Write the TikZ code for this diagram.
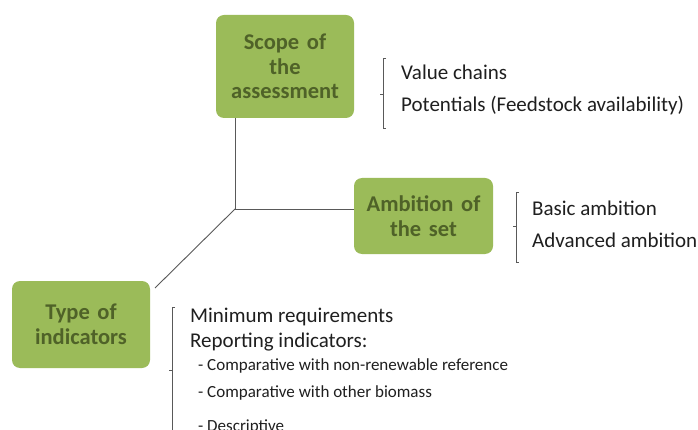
\documentclass[tikz,border=0pt]{standalone}
\usepackage{fontspec}
\setmainfont{Carlito}
\definecolor{boxfill}{HTML}{9BBB59}
\definecolor{boxtext}{HTML}{4F6228}
\definecolor{linegray}{HTML}{595959}
\newcommand{\myboxfont}{\fontsize{22.5}{24.5}\selectfont\bfseries\spaceskip=0.34em plus 0.1em\relax}
\begin{document}
\begin{tikzpicture}[x=1pt,y=-1pt,
  box/.style={draw=none,fill=boxfill,rounded corners=8pt,text=boxtext,
    font=\myboxfont,align=center,inner sep=0pt},
  conn/.style={draw=linegray,line width=0.9pt},
  brk/.style={draw=linegray,line width=0.9pt},
  item/.style={anchor=west,inner sep=0pt,font=\fontsize{21}{24}\selectfont,text=black!88},
  sitem/.style={anchor=west,inner sep=0pt,font=\fontsize{17}{20}\selectfont,text=black!88}]
\useasboundingbox (0,0) rectangle (698,430);
\fill[white] (0,0) rectangle (698,430);
% boxes
\node[box,minimum width=138pt,minimum height=103pt] (scope) at (285,66.5) {Scope of\\the\\assessment};
\node[box,minimum width=139pt,minimum height=76pt] (amb) at (423.5,216) {Ambition of\\the set};
\node[box,minimum width=138pt,minimum height=87pt] (type) at (81,324.5) {Type of\\indicators};
% connectors
\coordinate (hub) at (235,209);
\coordinate (scopebot) at (235,118);
\draw[conn] (scopebot) -- (hub);
\draw[conn] (hub) -- (amb.west |- hub);
\draw[conn] (hub) -- (155,288);
% brackets
\draw[brk] (386,58) -- (383,58) -- (383,128) -- (386,128);
\draw[brk] (383,94) -- (380,94);
\draw[brk] (519,192) -- (516,192) -- (516,262) -- (519,262);
\draw[brk] (516,226) -- (513,226);
\draw[brk] (175,307) -- (172,307) -- (172,432);
\draw[brk] (172,370) -- (169,370);
% texts
\node[item] (v1) at (401,72) {Value chains};
\node[item] (v2) at (401,106) {Potentials (Feedstock availability)};
\node[item] (a1) at (532,208) {Basic ambition};
\node[item] (a2) at (532,240) {Advanced ambition};
\node[item] (t1) at (190,317) {Minimum requirements};
\node[item] (t2) at (190,342) {Reporting indicators:};
\node[sitem] (t3) at (198,366) {- Comparative with non-renewable reference};
\node[sitem] (t4) at (198,393) {- Comparative with other biomass};
\node[sitem] (t5) at (198,427) {- Descriptive};
\end{tikzpicture}
\end{document}
